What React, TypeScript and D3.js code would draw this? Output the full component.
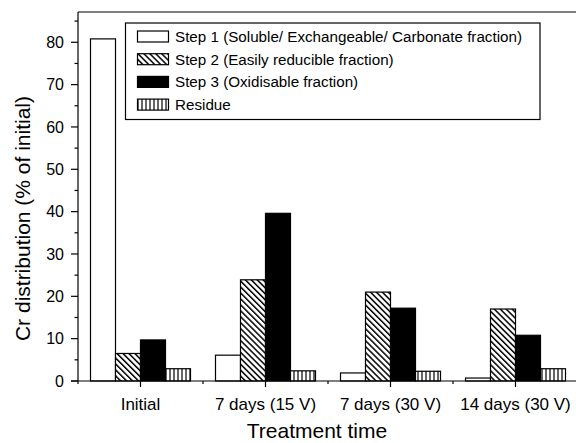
import React from "react";
import * as d3 from "d3";

const categories = ["Initial", "7 days (15 V)", "7 days (30 V)", "14 days (30 V)"];
const seriesNames = [
  "Step 1 (Soluble/ Exchangeable/ Carbonate fraction)",
  "Step 2 (Easily reducible fraction)",
  "Step 3 (Oxidisable fraction)",
  "Residue",
];
const step1 = [80.8, 6.1, 1.9, 0.7];
const step2 = [6.5, 23.9, 21.0, 17.0];
const step3 = [9.7, 39.6, 17.2, 10.8];
const residue = [2.9, 2.4, 2.3, 2.9];
const yMajorTicks = [0, 10, 20, 30, 40, 50, 60, 70, 80];
const yMinorTicks = [5, 15, 25, 35, 45, 55, 65, 75, 85];

const seriesValues = [step1, step2, step3, residue];
const fills = ["#fff", "url(#hatchDiag)", "#000", "url(#hatchVert)"];

const W = 576;
const H = 443;
const left = 78;
const right = 578;
const top = 12;
const bottom = 381;
const font = "Arial, 'Liberation Sans', Helvetica, sans-serif";

export default function App() {
  const x = d3.scaleBand<string>().domain(categories).range([left, right]).paddingInner(0.2).paddingOuter(0.1);
  const xs = d3.scaleBand<string>().domain(seriesNames).range([0, x.bandwidth()]);
  const y = d3.scaleLinear().domain([0, 87.15]).range([bottom, top]);
  const step = x.step();

  return (
    <svg width={W} height={H} style={{ position: "absolute", left: 0, top: 0 }} fontFamily={font}>
      <defs>
        <pattern id="hatchDiag" width={4.2} height={4.2} patternUnits="userSpaceOnUse" patternTransform="rotate(-45)">
          <rect width={4.2} height={4.2} fill="#fff" />
          <line x1={0} y1={0} x2={0} y2={4.2} stroke="#000" strokeWidth={3} />
        </pattern>
        <pattern id="hatchVert" width={4} height={4} patternUnits="userSpaceOnUse">
          <rect width={4} height={4} fill="#fff" />
          <line x1={2} y1={0} x2={2} y2={4} stroke="#000" strokeWidth={1.2} />
        </pattern>
      </defs>
      <rect width={W} height={H} fill="#fff" />

      {/* bars */}
      {categories.map((c, ci) => (
        <g key={c}>
          {seriesNames.map((s, si) => {
            const v = seriesValues[si][ci];
            const x0 = (x(c) ?? 0) + (xs(s) ?? 0);
            return (
              <rect
                key={s}
                x={x0}
                y={y(v)}
                width={xs.bandwidth()}
                height={bottom - y(v)}
                fill={fills[si]}
                stroke="#000"
                strokeWidth={1.2}
              />
            );
          })}
        </g>
      ))}

      {/* frame */}
      <line x1={left} y1={top} x2={W} y2={top} stroke="#000" strokeWidth={1.2} />
      <line x1={left} y1={top} x2={left} y2={bottom} stroke="#000" strokeWidth={1.2} />
      <line x1={left - 7} y1={bottom} x2={W} y2={bottom} stroke="#000" strokeWidth={1.2} />

      {/* y axis ticks */}
      {yMajorTicks.map((t) => (
        <g key={t}>
          <line x1={left - 7} x2={left} y1={y(t)} y2={y(t)} stroke="#000" strokeWidth={1.2} />
          <text x={64} y={y(t)} dy="0.36em" textAnchor="end" fontSize={16}>
            {t}
          </text>
        </g>
      ))}
      {yMinorTicks.map((t) => (
        <line key={t} x1={left - 3.5} x2={left} y1={y(t)} y2={y(t)} stroke="#000" strokeWidth={1.2} />
      ))}

      {/* x axis ticks */}
      {categories.map((c, i) => {
        const cx = (x(c) ?? 0) + x.bandwidth() / 2;
        const bx = left + i * step;
        return (
          <g key={c}>
            <line x1={cx} x2={cx} y1={bottom} y2={bottom + 6} stroke="#000" strokeWidth={1.2} />
            <line x1={bx} x2={bx} y1={bottom} y2={bottom + 3} stroke="#000" strokeWidth={1.2} />
            <text x={cx} y={410} textAnchor="middle" fontSize={17}>
              {c}
            </text>
          </g>
        );
      })}

      {/* axis titles */}
      <text x={317} y={438} textAnchor="middle" fontSize={21}>
        Treatment time
      </text>
      <text transform={`translate(30,${(top + bottom) / 2 + 22}) rotate(-90)`} textAnchor="middle" fontSize={21}>
        Cr distribution (% of initial)
      </text>

      {/* legend */}
      <rect x={125.5} y={23} width={414.5} height={96.5} fill="#fff" stroke="#000" strokeWidth={1.2} />
      {seriesNames.map((s, i) => {
        const cy = 36.5 + i * 22.7;
        return (
          <g key={s}>
            <rect x={137.5} y={cy - 5.5} width={31} height={11} fill={fills[i]} stroke="#000" strokeWidth={1.2} />
            <text x={175} y={cy} dy="0.36em" fontSize={15.2}>
              {s}
            </text>
          </g>
        );
      })}
    </svg>
  );
}
